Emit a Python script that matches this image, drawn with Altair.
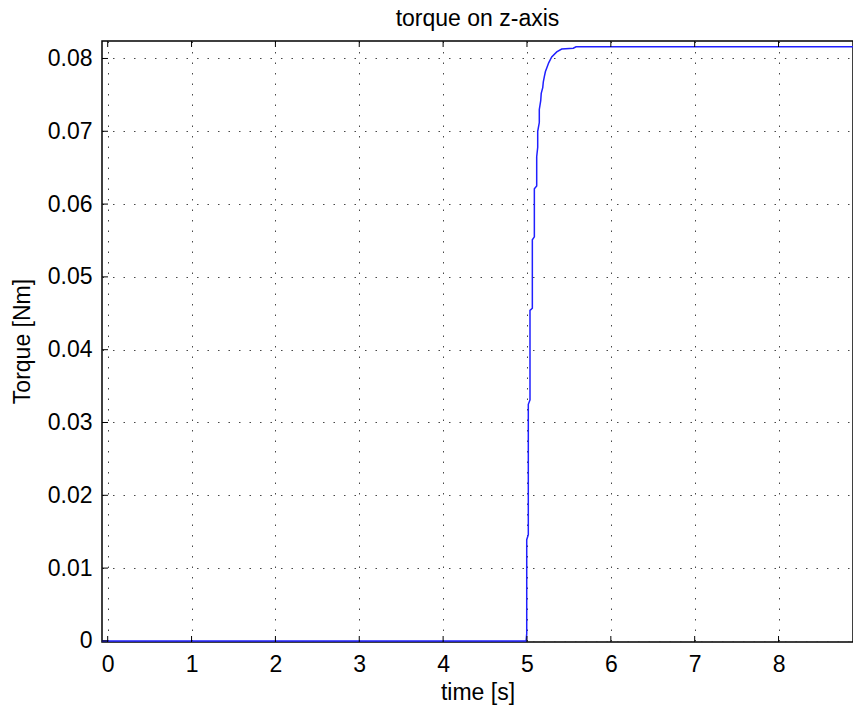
import altair as alt
import pandas as pd

# staircase-like torque response
time_s = [-0.1, 4.990, 4.997, 4.997, 5.016, 5.016, 5.036, 5.036, 5.064, 5.064,
          5.088, 5.088, 5.116, 5.116, 5.128, 5.128, 5.147, 5.147, 5.164, 5.170,
          5.188, 5.195, 5.207, 5.220, 5.236, 5.259, 5.295, 5.355, 5.414, 5.553,
          5.585, 8.95]
torque = [0.0, 0.0, 0.0010, 0.0139, 0.0146, 0.0325, 0.0331, 0.0454, 0.0457, 0.0551,
          0.0555, 0.0621, 0.0625, 0.0665, 0.0678, 0.0700, 0.0712, 0.0730, 0.0742, 0.0752,
          0.0760, 0.0768, 0.0775, 0.0782, 0.0787, 0.0794, 0.0802, 0.0809, 0.0813, 0.0814,
          0.0816, 0.0816]

x_ticks = [0, 1, 2, 3, 4, 5, 6, 7, 8]
y_ticks = [0, 0.01, 0.02, 0.03, 0.04, 0.05, 0.06, 0.07, 0.08]

W, H = 751, 601
FONT = "Liberation Sans"

df = pd.DataFrame({"t": time_s, "v": torque})
xt = pd.DataFrame({"t": x_ticks})
yt = pd.DataFrame({"v": y_ticks})

xscale = alt.Scale(domain=[-0.068, 8.888], nice=False, zero=False)
yscale = alt.Scale(domain=[-0.00015, 0.0824], nice=False, zero=False)

line = alt.Chart(df).mark_line(color="#2020ff", strokeWidth=1.5, clip=True).encode(
    x=alt.X("t:Q", scale=xscale,
            axis=alt.Axis(values=x_ticks, title="time [s]", grid=True, format="d",
                          labelPadding=11, titleY=57, titleBaseline="alphabetic")),
    y=alt.Y("v:Q", scale=yscale,
            axis=alt.Axis(values=y_ticks, title="Torque [Nm]", grid=True,
                          labelPadding=10,
                          labelExpr="datum.value == 0 ? '0' : format(datum.value, '.2f')",
                          titleX=-72.5, titleY=300, titleBaseline="alphabetic",
                          titleAlign="center")),
    order=alt.Order("idx:Q"),
).transform_window(idx="row_number()")

tick_bottom = alt.Chart(xt).mark_rule(color="black", strokeWidth=1).encode(
    x=alt.X("t:Q", scale=xscale),
    y=alt.value(H), y2=alt.value(H - 6))
tick_top = alt.Chart(xt).mark_rule(color="black", strokeWidth=1).encode(
    x=alt.X("t:Q", scale=xscale),
    y=alt.value(0), y2=alt.value(6))
tick_left = alt.Chart(yt).mark_rule(color="black", strokeWidth=1).encode(
    y=alt.Y("v:Q", scale=yscale),
    x=alt.value(0), x2=alt.value(6))

chart = alt.layer(line, tick_bottom, tick_top, tick_left).properties(
    width=W, height=H,
    autosize="none",
    padding={"left": 102, "top": 41, "right": 0, "bottom": 64},
    title=alt.TitleParams("torque on z-axis", font=FONT, fontSize=23,
                          fontWeight="normal", color="black", anchor="middle",
                          offset=10),
    background="white",
).configure_view(stroke="black", strokeWidth=1.5).configure_axis(
    domain=False, ticks=False,
    gridColor="#333333", gridDash=[1.5, 9], gridWidth=1, gridOpacity=0.9,
    labelFont=FONT, labelFontSize=23, labelColor="black",
    titleFont=FONT, titleFontSize=23, titleFontWeight="normal", titleColor="black",
)

chart.save("out.html", embed_options={"renderer": "svg", "actions": False})
